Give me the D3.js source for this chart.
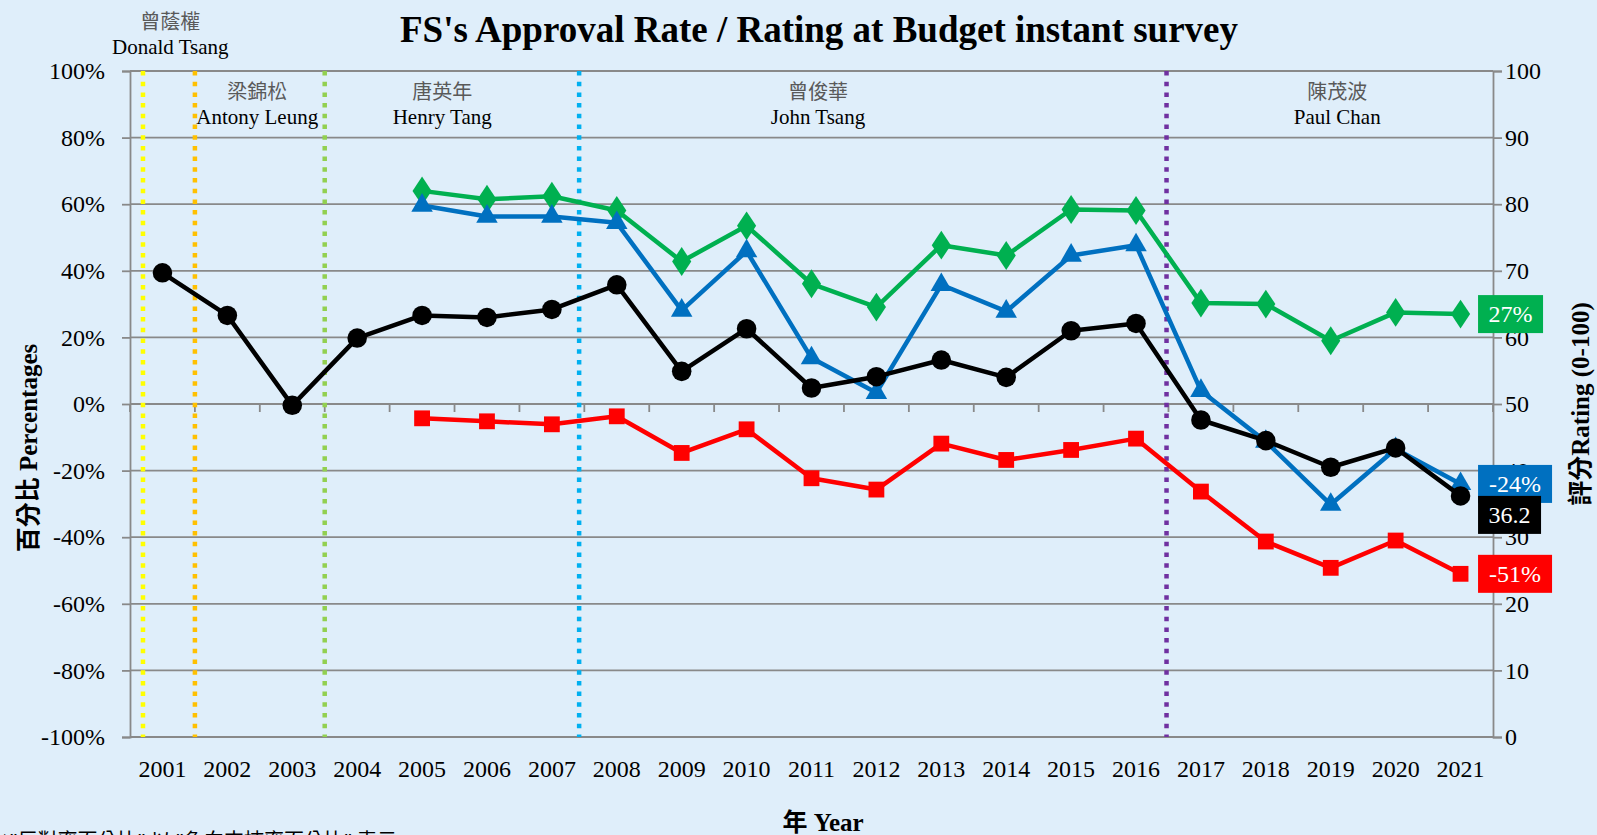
<!doctype html>
<head>
    <meta charset="utf-8">
    <title>FS's Approval Rate / Rating at Budget instant survey</title>
    <script src="https://d3js.org/d3.v7.min.js"></script>
    <style>
        html, body {margin:0; padding:0; background:#DFEEFA;}
        svg {display:block;}
        text {font-family:"Liberation Serif", "Times New Roman", "Noto Sans CJK TC", serif !important;}
        text.cjk {font-family:"Noto Sans CJK TC", sans-serif !important;}
        .grid line {stroke:#898989; stroke-width:1.8;}
    </style>
</head>
<body>
    <script>
        "use strict";
        var years = d3.range(2001, 2022);
        // approval (%), from 2005
        var approve = [null, null, null, null, 64, 61.5, 62.4, 58.1, 42.8, 53.5, 36.1, 29.1, 47.7, 44.6, 58.4, 58.1, 30.3, 30, 19, 27.5, 27];
        // disapproval shown as negative (%)
        var oppose = [null, null, null, null, -4.3, -5.2, -6.1, -3.7, -14.7, -7.6, -22.3, -25.7, -11.9, -16.8, -13.8, -10.4, -26.3, -41.3, -49.2, -41, -51];
        // net approval (%)
        var net = [null, null, null, null, 59.6, 56.3, 56.3, 54.4, 28.1, 45.9, 13.8, 3.4, 35.8, 27.8, 44.6, 47.7, 4, -11.3, -30.2, -13.5, -24];
        // rating 0-100 (right axis)
        var rating = [69.7, 63.3, 49.8, 59.9, 63.3, 63.0, 64.2, 67.9, 54.9, 61.3, 52.4, 54.1, 56.6, 54.0, 61.0, 62.1, 47.6, 44.5, 40.5, 43.4, 36.2];

        var pctTicks = [-100, -80, -60, -40, -20, 0, 20, 40, 60, 80, 100];
        var ratingTicks = [0, 10, 20, 30, 40, 50, 60, 70, 80, 90, 100];

        // term boundaries (in year units) and colours
        var dividers = [
            {at: 2000.7, color: "#FFFF00"},
            {at: 2001.5, color: "#FFC000"},
            {at: 2003.5, color: "#92D050"},
            {at: 2007.42, color: "#00B0F0"},
            {at: 2016.47, color: "#7030A0"}
        ];
        var officials = [
            {zh: "曾蔭權", en: "Donald Tsang", at: 2001.12, outside: true},
            {zh: "梁錦松", en: "Antony Leung", at: 2002.46},
            {zh: "唐英年", en: "Henry Tang", at: 2005.31},
            {zh: "曾俊華", en: "John Tsang", at: 2011.1},
            {zh: "陳茂波", en: "Paul Chan", at: 2019.1}
        ];

        var W = 1597, H = 835;
        var pLeft = 130, pRight = 1493, pTop = 71, pBottom = 737;

        var svg = d3.select("body").append("svg").attr("width", W).attr("height", H);

        var x = d3.scaleBand().domain(years).range([pLeft, pRight]);
        var xc = function(yr) { return x(yr) + x.bandwidth() / 2; };
        var xPos = d3.scaleLinear().domain([2000.5, 2021.5]).range([pLeft, pRight]);
        var y = d3.scaleLinear().domain([-100, 100]).range([pBottom, pTop]);
        var yR = d3.scaleLinear().domain([0, 100]).range([pBottom, pTop]);

        // gridlines
        svg.append("g").attr("class", "grid")
            .selectAll("line").data(pctTicks).enter().append("line")
            .attr("x1", pLeft).attr("x2", pRight)
            .attr("y1", function(d) { return y(d); })
            .attr("y2", function(d) { return y(d); });

        // left axis
        var gl = svg.append("g").attr("transform", "translate(" + pLeft + ",0)")
            .call(d3.axisLeft(y).tickValues(pctTicks).tickSize(8).tickPadding(17)
                .tickFormat(function(d) { return d + "%"; }));
        // right axis
        var gr = svg.append("g").attr("transform", "translate(" + pRight + ",0)")
            .call(d3.axisRight(yR).tickValues(ratingTicks).tickSize(9).tickPadding(3));
        [gl, gr].forEach(function(g) {
            g.attr("font-family", null);
            g.select(".domain").attr("stroke", "#898989").attr("stroke-width", 1.8);
            g.selectAll(".tick line").attr("stroke", "#898989").attr("stroke-width", 1.8);
            g.selectAll(".tick text").attr("font-size", 24).attr("fill", "#000");
        });

        // x axis at zero with ticks between categories
        var gx = svg.append("g").attr("transform", "translate(0," + y(0) + ")");
        gx.selectAll("line").data(d3.range(0, years.length + 1)).enter().append("line")
            .attr("x1", function(i) { return pLeft + i * x.bandwidth(); })
            .attr("x2", function(i) { return pLeft + i * x.bandwidth(); })
            .attr("y1", 0).attr("y2", 8)
            .attr("stroke", "#898989").attr("stroke-width", 1.8);
        svg.append("g").selectAll("text").data(years).enter().append("text")
            .attr("x", function(d) { return xc(d); })
            .attr("y", 777)
            .attr("text-anchor", "middle").attr("font-size", 24)
            .text(function(d) { return d; });

        // term dividers
        svg.append("g").selectAll("line").data(dividers).enter().append("line")
            .attr("x1", function(d) { return xPos(d.at); })
            .attr("x2", function(d) { return xPos(d.at); })
            .attr("y1", pTop).attr("y2", pBottom)
            .attr("stroke", function(d) { return d.color; })
            .attr("stroke-width", 4.5)
            .attr("stroke-dasharray", "4.5 6.2");

        // official names
        var off = svg.append("g").selectAll("g").data(officials).enter().append("g")
            .attr("transform", function(d) {
                return "translate(" + xPos(d.at) + "," + (d.outside ? 22 : 92) + ")";
            });
        off.append("text").attr("class", "cjk").attr("text-anchor", "middle")
            .attr("font-size", 20).attr("fill", "#595959").attr("dy", "0.35em")
            .text(function(d) { return d.zh; });
        off.append("text").attr("text-anchor", "middle")
            .attr("font-size", 21).attr("fill", "#000").attr("y", 25).attr("dy", "0.35em")
            .text(function(d) { return d.en; });

        // series
        var series = [
            {vals: approve, color: "#00B050", marker: d3.symbolDiamond, size: 240, scale: y},
            {vals: net, color: "#0070C0", marker: d3.symbolTriangle, size: 200, scale: y},
            {vals: oppose, color: "#FF0000", marker: d3.symbolSquare, size: 250, scale: y},
            {vals: rating, color: "#000000", marker: d3.symbolCircle, size: 300, scale: yR}
        ];
        series.forEach(function(s) {
            var pts = years.map(function(yr, i) { return {yr: yr, v: s.vals[i]}; })
                .filter(function(p) { return p.v !== null; });
            var line = d3.line()
                .x(function(p) { return xc(p.yr); })
                .y(function(p) { return s.scale(p.v); });
            svg.append("path").datum(pts)
                .attr("d", line).attr("fill", "none")
                .attr("stroke", s.color).attr("stroke-width", 4.5)
                .attr("stroke-linejoin", "round");
            svg.append("g").selectAll("path").data(pts).enter().append("path")
                .attr("d", d3.symbol().type(s.marker).size(s.size))
                .attr("transform", function(p) {
                    return "translate(" + xc(p.yr) + "," + s.scale(p.v) + ")" +
                        (s.marker === d3.symbolDiamond ? " scale(1.15,1)" : "");
                })
                .attr("fill", s.color);
        });

        // end labels
        var last = years.length - 1;
        var endLabels = [
            {text: Math.round(approve[last]) + "%", color: "#00B050", cy: y(approve[last]), w: 65},
            {text: net[last] + "%", color: "#0070C0", cy: y(net[last]), w: 74},
            {text: rating[last].toFixed(1), color: "#000000", cy: yR(rating[last]) + 19, w: 63},
            {text: oppose[last] + "%", color: "#FF0000", cy: y(oppose[last]), w: 74}
        ];
        var lab = svg.append("g").selectAll("g").data(endLabels).enter().append("g")
            .attr("transform", function(d) { return "translate(" + (xc(2021) + 17.5) + "," + d.cy + ")"; });
        lab.append("rect").attr("x", 0).attr("y", -19).attr("height", 38)
            .attr("width", function(d) { return d.w; })
            .attr("fill", function(d) { return d.color; });
        lab.append("text").attr("x", function(d) { return d.w / 2; })
            .attr("text-anchor", "middle").attr("dy", "0.35em")
            .attr("font-size", 24).attr("fill", "#fff")
            .text(function(d) { return d.text; });

        // titles
        svg.append("text").attr("x", 819).attr("y", 42).attr("text-anchor", "middle")
            .attr("font-size", 37).attr("font-weight", "bold")
            .text("FS's Approval Rate / Rating at Budget instant survey");
        svg.append("text").attr("transform", "translate(37,448) rotate(-90)")
            .attr("text-anchor", "middle").attr("font-size", 25).attr("font-weight", "bold")
            .text("百分比 Percentages");
        svg.append("text").attr("transform", "translate(1589,404) rotate(-90)")
            .attr("text-anchor", "middle").attr("font-size", 25).attr("font-weight", "bold")
            .text("評分Rating (0-100)");
        svg.append("text").attr("x", 823).attr("y", 831).attr("text-anchor", "middle")
            .attr("font-size", 25).attr("font-weight", "bold")
            .text("年 Year");
        svg.append("text").attr("x", 0).attr("y", 848)
            .attr("font-size", 20).attr("fill", "#000")
            .text("^\"反對率百分比\" 以 \"負向支持率百分比\" 表示");
    </script>
</body>
</html>
